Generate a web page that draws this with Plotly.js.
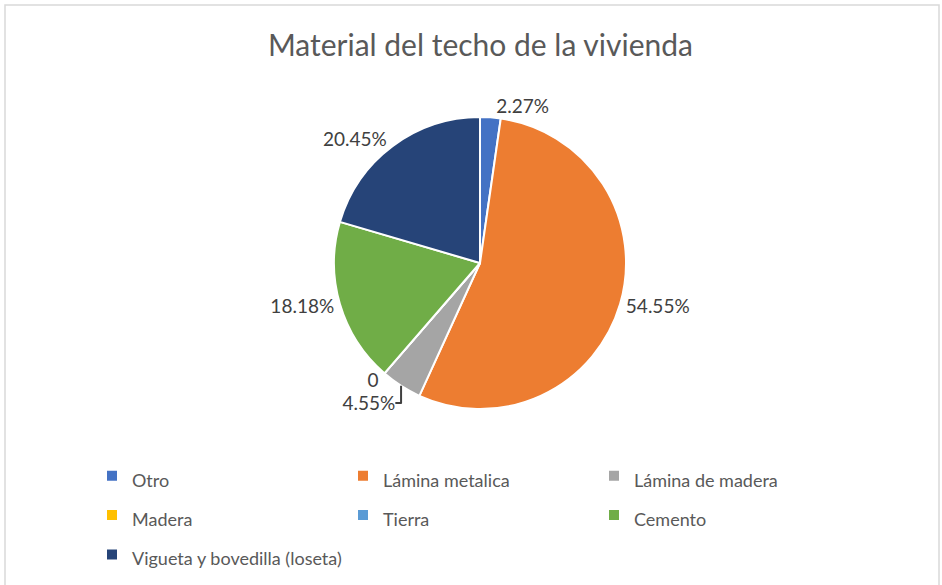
<!DOCTYPE html>
<html><head><meta charset="utf-8">
<script src="https://cdn.plot.ly/plotly-3.0.1.min.js"></script>
<style>html,body{margin:0;padding:0;background:#fff}</style>
</head><body>
<div id="chart" style="width:942px;height:585px"></div>
<script>
const categories = ["Otro","Lámina metalica","Lámina de madera","Madera","Tierra","Cemento","Vigueta y bovedilla (loseta)"];
const counts = [1, 24, 2, 0, 0, 8, 9];
const colors = ["#4472C4","#ED7D31","#A5A5A5","#FFC000","#5B9BD5","#70AD47","#264478"];
const total = counts.reduce((a,b)=>a+b,0);
// zero slices sit on the same spot, so only one "0" is visible
const labelText = counts.map((v,i) => v === 0 ? (i > 0 && counts[i-1] === 0 ? "" : "0") : (v/total*100).toFixed(2) + "%");
// legend text at 18px inside a taller legend row
const legendLabels = categories.map(c => '<span style="font-size:18px">' + c + '</span>');

const W = 942, H = 585;
const cx = 480, cy = 263, r = 146;
const FONT = "Lato, 'Open Sans', sans-serif";

const trace = {
  type: "pie",
  labels: legendLabels,
  values: counts,
  text: labelText,
  textinfo: "text",
  textposition: "outside",
  sort: false,
  direction: "clockwise",
  rotation: 0,
  marker: {colors: colors, line: {color: "#ffffff", width: 2}},
  outsidetextfont: {family: FONT, size: 19, color: "#404040"},
  domain: {x: [(cx - r)/W, (cx + r)/W], y: [(H - cy - r)/H, (H - cy + r)/H]},
  hoverinfo: "label+text"
};

const layout = {
  width: W, height: H,
  margin: {l: 0, r: 0, t: 0, b: 0},
  paper_bgcolor: "#ffffff",
  title: {text: "Material del techo de la vivienda", x: 0.51, xanchor: "center", y: 1 - 45/H, yanchor: "middle",
          font: {family: FONT, size: 30, color: "#595959"}},
  showlegend: true,
  legend: {orientation: "h", traceorder: "normal", x: 92/W, xanchor: "left", y: 1 - 451/H, yanchor: "top",
           entrywidth: 206, entrywidthmode: "pixels",
           font: {family: FONT, size: 28, color: "#595959"}},
  shapes: [{type: "rect", xref: "paper", yref: "paper", x0: 5/W, x1: 939/W, y0: -0.05, y1: 1 - 5/H,
            line: {color: "#d9d9d9", width: 1.5}}]
};

Plotly.newPlot("chart", [trace], layout, {displayModeBar: false, staticPlot: true});
</script>
</body></html>
